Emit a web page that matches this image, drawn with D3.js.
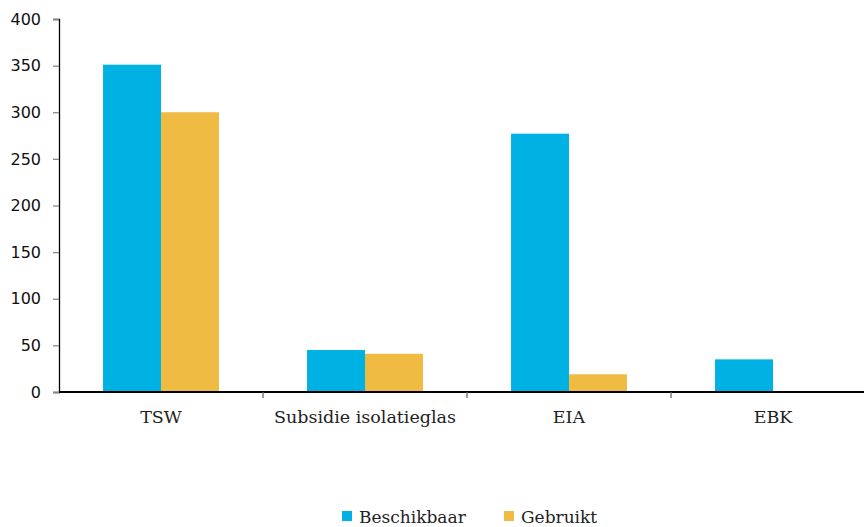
<!DOCTYPE html>
<html>
<head>
<meta charset="utf-8">
<script src="https://cdn.jsdelivr.net/npm/d3@7"></script>
<style>
  body { margin: 0; background: #fff; }
  svg { display: block; }
</style>
</head>
<body>
<script>
const categories = ['TSW', 'Subsidie isolatieglas', 'EIA', 'EBK'];
const seriesNames = ['Beschikbaar', 'Gebruikt'];
const beschikbaar = [351, 45, 277, 35];
const gebruikt = [300, 41, 19, 0.6];
const yTicks = [0, 50, 100, 150, 200, 250, 300, 350, 400];
const colors = ['#00b1e3', '#efbb43'];

const width = 864;
const height = 527;
const margin = { top: 19, right: -11, bottom: 135, left: 59 };

const svg = d3.select('body')
  .append('svg')
  .attr('width', width)
  .attr('height', height);

const x = d3.scaleBand()
  .domain(categories)
  .range([margin.left, width - margin.right]);

const x1 = d3.scaleBand()
  .domain(seriesNames)
  .range([0, x.bandwidth()])
  .paddingOuter(0.76)
  .paddingInner(0);

const y = d3.scaleLinear()
  .domain([0, 400])
  .range([height - margin.bottom, margin.top]);

const rows = categories.map((c, i) => ({
  cat: c,
  vals: [beschikbaar[i], gebruikt[i]],
}));

// bars
svg.append('g')
  .selectAll('g')
  .data(rows)
  .join('g')
  .attr('transform', (d) => `translate(${x(d.cat)},0)`)
  .selectAll('rect')
  .data((d) => d.vals.map((v, j) => ({ key: seriesNames[j], v, j })))
  .join('rect')
  .attr('x', (d) => x1(d.key))
  .attr('width', x1.bandwidth())
  .attr('y', (d) => y(d.v))
  .attr('height', (d) => y(0) - y(d.v))
  .attr('fill', (d) => colors[d.j]);

// y axis
const yAxis = svg.append('g')
  .attr('transform', `translate(${margin.left},0)`)
  .call(d3.axisLeft(y).tickValues(yTicks).tickSize(6).tickPadding(12));
yAxis.select('.domain').attr('stroke', '#000').attr('stroke-width', 1.3);
yAxis.selectAll('.tick line').attr('stroke', '#888').attr('stroke-width', 1.3);
yAxis.selectAll('.tick text')
  .attr('fill', '#111')
  .style('font', '16px "DejaVu Sans", sans-serif');

// x axis: ticks between categories
const xAxisG = svg.append('g')
  .attr('transform', `translate(0,${y(0)})`);
xAxisG.append('line')
  .attr('x1', margin.left)
  .attr('x2', width)
  .attr('stroke', '#000')
  .attr('stroke-width', 1.8);
xAxisG.selectAll('line.sep')
  .data(categories.slice(1))
  .join('line')
  .attr('class', 'sep')
  .attr('x1', (d) => x(d))
  .attr('x2', (d) => x(d))
  .attr('y1', 0)
  .attr('y2', 6)
  .attr('stroke', '#666')
  .attr('stroke-width', 1.3);
xAxisG.selectAll('text')
  .data(categories)
  .join('text')
  .attr('x', (d) => x(d) + x.bandwidth() / 2)
  .attr('y', 31)
  .attr('text-anchor', 'middle')
  .attr('fill', '#222')
  .style('font', '17.5px "DejaVu Serif", serif')
  .text((d) => d);

// legend
const legend = svg.append('g')
  .attr('transform', 'translate(342,523)');
const legendX = [0, 162];
const item = legend.selectAll('g')
  .data(seriesNames)
  .join('g')
  .attr('transform', (d, i) => `translate(${legendX[i]},0)`);
item.append('rect')
  .attr('x', 0)
  .attr('y', -12)
  .attr('width', 10)
  .attr('height', 10)
  .attr('fill', (d, i) => colors[i]);
item.append('text')
  .attr('x', 17)
  .attr('y', 0)
  .attr('fill', '#222')
  .style('font', '17px "DejaVu Serif", serif')
  .text((d) => d);
</script>
</body>
</html>
